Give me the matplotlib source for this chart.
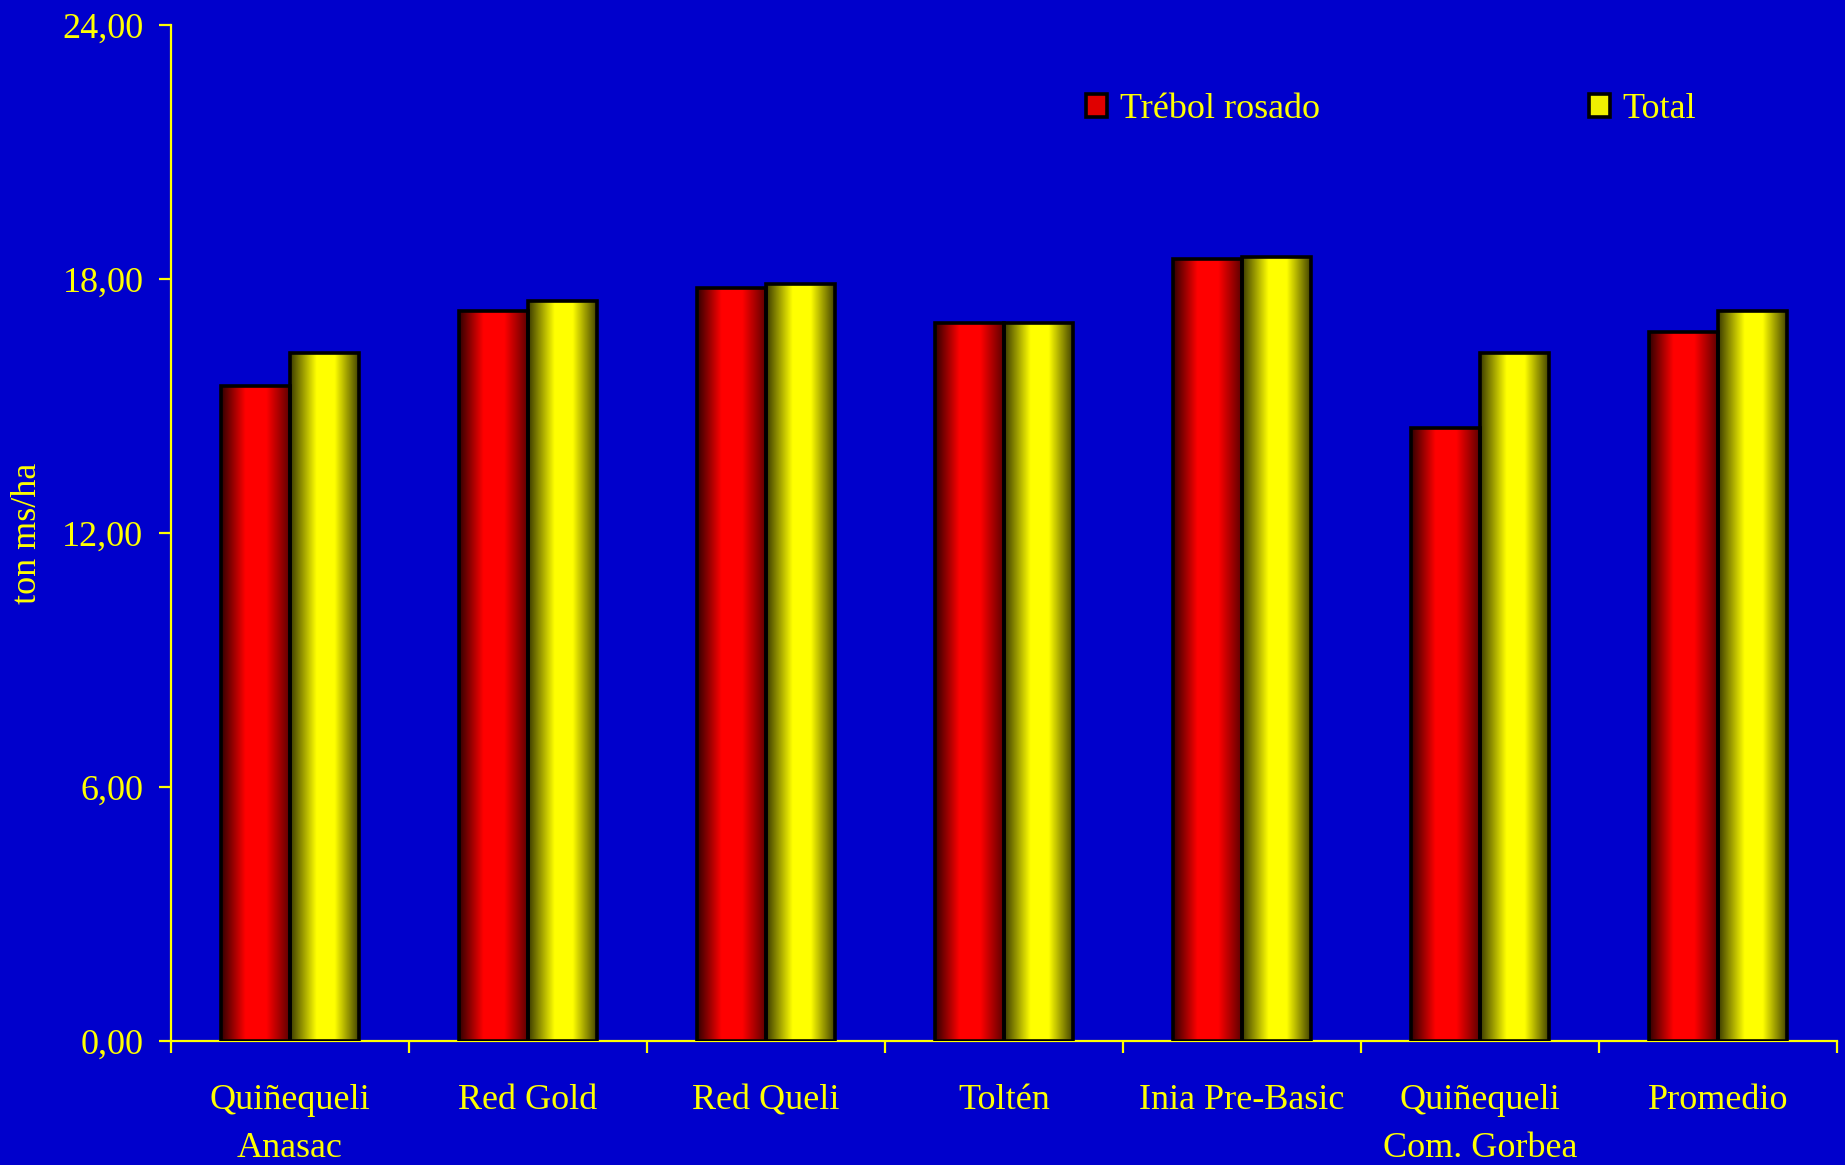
import numpy as np
import matplotlib
matplotlib.use("Agg")
import matplotlib.pyplot as plt
from matplotlib.colors import LinearSegmentedColormap
from matplotlib.patches import Patch

# data
categories = ["Quiñequeli\nAnasac", "Red Gold", "Red Queli", "Toltén",
              "Inia Pre-Basic", "Quiñequeli\nCom. Gorbea", "Promedio"]
trebol = [15.48, 17.25, 17.80, 16.97, 18.47, 14.49, 16.75]
total = [16.25, 17.47, 17.88, 16.97, 18.51, 16.25, 17.24]
yticks = [0, 6, 12, 18, 24]
ytick_labels = ["0,00", "6,00", "12,00", "18,00", "24,00"]

BG = "#0000cc"
YEL = "#ffff00"
FS = 26

plt.rcParams["font.family"] = ["Liberation Serif", "DejaVu Serif"]

red_cmap = LinearSegmentedColormap.from_list(
    "cyl_red", [(0, "#300000"), (0.35, "#ff0000"), (0.65, "#ff0000"), (1, "#550000")])
yel_cmap = LinearSegmentedColormap.from_list(
    "cyl_yel", [(0, "#3a3a00"), (0.38, "#ffff00"), (0.64, "#ffff00"), (1, "#3a3a00")])
gradient = np.linspace(0, 1, 256).reshape(1, -1)

fig = plt.figure(figsize=(18.45, 11.65), dpi=100, facecolor=BG)
ax = fig.add_axes([0.0925, 0.1064, 0.9032, 0.8721], facecolor=BG)

x = np.arange(len(categories))
w = 0.29


def shaded_bars(xpos, heights, cmap):
    bars = ax.bar(xpos, heights, width=w, facecolor="none",
                  edgecolor="black", linewidth=2.6, zorder=3)
    for b in bars:
        x0, y0 = b.get_x(), b.get_y()
        im = ax.imshow(gradient, cmap=cmap, aspect="auto", interpolation="bilinear",
                       extent=(x0, x0 + b.get_width(), y0, y0 + b.get_height()),
                       zorder=2)
        im.set_clip_path(b)
    return bars


shaded_bars(x - w / 2, trebol, red_cmap)
shaded_bars(x + w / 2, total, yel_cmap)

ax.set_xlim(-0.5, len(categories) - 0.5)
ax.set_ylim(0, 24)

for side in ["top", "right"]:
    ax.spines[side].set_visible(False)
for side in ["left", "bottom"]:
    ax.spines[side].set_color(YEL)
    ax.spines[side].set_linewidth(1.6)

ax.set_yticks(yticks)
ax.set_yticklabels(ytick_labels)
ax.tick_params(axis="y", colors=YEL, labelsize=FS, length=8.6, width=1.6,
               pad=11, direction="out")

ax.set_xticks(x)
ax.set_xticklabels(categories, linespacing=1.6)
ax.set_xticks(np.arange(len(categories) + 1) - 0.5, minor=True)
ax.tick_params(axis="x", which="major", length=0, colors=YEL, labelsize=FS, pad=31)
ax.tick_params(axis="x", which="minor", length=8.6, width=1.6, color=YEL, direction="out")

ax.set_ylabel("ton ms/ha", color=YEL, fontsize=26)
ax.yaxis.set_label_coords(-0.076, 0.5)

# two separate legend entries placed like the original
h1 = Patch(facecolor="#e00000", edgecolor="black", linewidth=2.6)
h2 = Patch(facecolor="#f0f000", edgecolor="black", linewidth=2.6)
leg_kw = dict(loc="center left", frameon=False, fontsize=FS, labelcolor=YEL,
              handlelength=0.58, handleheight=0.62, handletextpad=0.35,
              borderpad=0, borderaxespad=0)
fig.legend([h1], ["Trébol rosado"], bbox_to_anchor=(1086 / 1845, 1 - 110 / 1165), **leg_kw)
fig.legend([h2], ["Total"], bbox_to_anchor=(1589 / 1845, 1 - 110 / 1165), **leg_kw)

fig.savefig("out.png", dpi=100, facecolor=BG)
